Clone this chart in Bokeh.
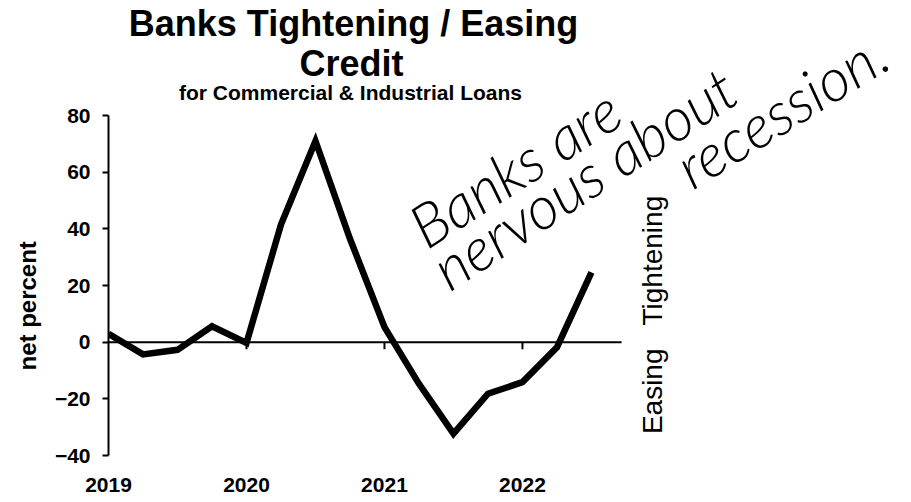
from bokeh.plotting import figure
from bokeh.models import Range1d, FixedTicker, Label, Title
from bokeh.embed import file_html
from bokeh.resources import INLINE
import math

# ---- data ----
periods = ["2019Q1", "2019Q2", "2019Q3", "2019Q4",
           "2020Q1", "2020Q2", "2020Q3", "2020Q4",
           "2021Q1", "2021Q2", "2021Q3", "2021Q4",
           "2022Q1", "2022Q2", "2022Q3"]
net_percent = [3.0, -4.3, -2.7, 5.6,
               -0.3, 41.5, 71.0, 36.5,
               5.3, -14.7, -32.3, -18.2,
               -14.1, -1.8, 24.6]
year_ticks = [2019, 2020, 2021, 2022]
y_ticks = [-40, -20, 0, 20, 40, 60, 80]

title_line1 = "Banks Tightening / Easing"
title_line2 = "Credit"
subtitle = "for Commercial & Industrial Loans"
y_label = "net percent"
side_up = "Tightening"
side_down = "Easing"
note_1 = "Banks are"
note_2 = "nervous about"
note_3 = "recession."

xs = [int(p[:4]) + (int(p[5]) - 1) / 4 for p in periods]

FONT = "Liberation Sans"
HAND = "Lato Light"

# ---- geometry (pixels) ----
W, H = 911, 502
LEFT, BOTTOM = 105, 47            # frame border widths
PX_PER_YEAR = 138.5
Y_LO, Y_HI = -40, 80
PLOT_H = 340                      # pixel height of the -40..80 span
X_LO = 2019
X_AXIS_END = X_LO + 515 / PX_PER_YEAR
frame_w = W - LEFT
frame_h = H - BOTTOM
x_hi = X_LO + frame_w / PX_PER_YEAR
y_hi = Y_LO + frame_h * (Y_HI - Y_LO) / PLOT_H
BASE_FIX = 11                     # baseline correction (px)

p = figure(width=W, height=H, output_backend="svg", toolbar_location=None,
           x_range=Range1d(X_LO, x_hi), y_range=Range1d(Y_LO, y_hi),
           min_border_left=LEFT, min_border_right=0, min_border_top=0,
           min_border_bottom=BOTTOM)
p.outline_line_color = None
p.grid.visible = False
p.background_fill_color = "white"
p.border_fill_color = "white"

# y axis
ya = p.yaxis[0]
ya.ticker = FixedTicker(ticks=y_ticks)
ya.bounds = (Y_LO, Y_HI)
ya.axis_line_width = 2
ya.axis_line_color = "black"
ya.major_tick_line_width = 2
ya.major_tick_out = 6
ya.major_tick_in = 0
ya.minor_tick_line_color = None
ya.major_label_text_font = FONT
ya.major_label_text_font_style = "bold"
ya.major_label_text_font_size = "21px"
ya.major_label_text_color = "black"
ya.major_label_standoff = 12

p.add_layout(Title(text=y_label, align="left", offset=85, standoff=22,
                   text_font=FONT, text_font_style="bold", text_font_size="24px",
                   text_color="black"), "left")

# x axis (labels only)
xa = p.xaxis[0]
xa.ticker = FixedTicker(ticks=year_ticks)
xa.axis_line_color = None
xa.major_tick_line_color = None
xa.major_tick_out = 0
xa.major_tick_in = 0
xa.minor_tick_line_color = None
xa.major_label_text_font = FONT
xa.major_label_text_font_style = "bold"
xa.major_label_text_font_size = "21px"
xa.major_label_text_color = "black"
xa.major_label_standoff = 22

# zero line with year ticks
p.segment(x0=[X_LO], y0=[0], x1=[X_AXIS_END], y1=[0], line_color="black", line_width=2)
p.segment(x0=year_ticks[1:], y0=[0] * 3, x1=year_ticks[1:], y1=[-2.5] * 3,
          line_color="black", line_width=2)

# series
p.line(xs, net_percent, line_color="black", line_width=6.5, line_join="miter")

# text helper (screen units relative to frame: x from left, y up from bottom)
def lab(text, px, py, size, style="bold", align="center", angle_deg=0.0,
        baseline="alphabetic", font=FONT):
    a = math.radians(angle_deg)
    if baseline == "alphabetic":
        px -= BASE_FIX * math.sin(a)
        py -= BASE_FIX * math.cos(a)
    p.add_layout(Label(x=px - LEFT, y=frame_h - py, x_units="screen", y_units="screen",
                       text=text, text_font=font, text_font_style=style,
                       text_font_size=size, text_color="black", text_align=align,
                       text_baseline=baseline, angle=a))

lab(title_line1, 350, 34, "36px")
lab(title_line2, 348, 74, "36px")
lab(subtitle, 347, 103, "21px")

# side labels
lab(side_up, 649, 325, "28px", style="normal", align="left", angle_deg=90, baseline="middle")
lab(side_down, 649, 348, "28px", style="normal", align="right", angle_deg=90, baseline="middle")

# handwritten note
lab(note_1, 417, 240, "60px", style="italic", align="left", angle_deg=32.7, font=HAND)
lab(note_2, 440, 282, "60px", style="italic", align="left", angle_deg=33.3, font=HAND)
lab(note_3, 683, 180, "60px", style="italic", align="left", angle_deg=31.7, font=HAND)

open("out.html", "w").write(file_html(p, INLINE))
